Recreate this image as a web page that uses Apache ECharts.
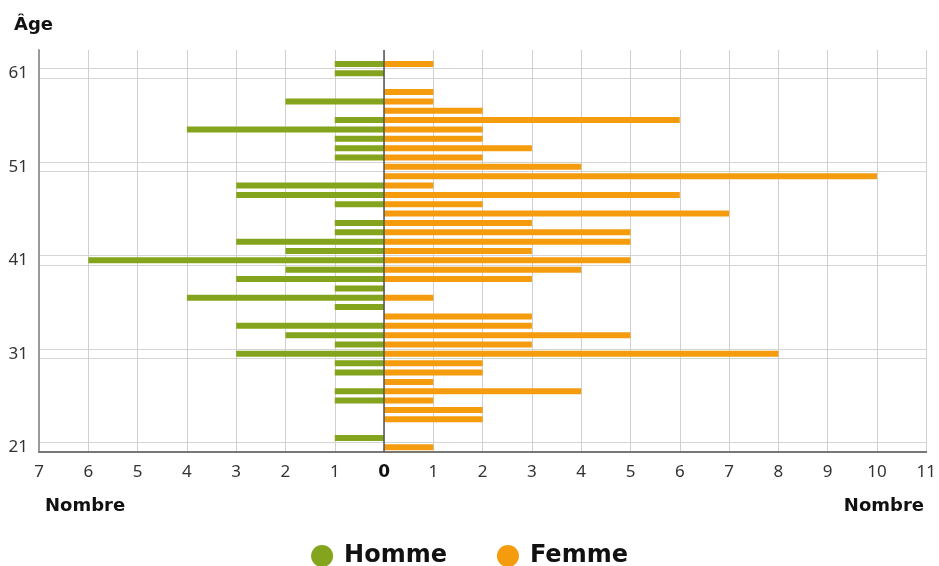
<!DOCTYPE html>
<html>
<head>
<meta charset="utf-8">
<script src="https://cdn.jsdelivr.net/npm/echarts@6/dist/echarts.min.js"></script>
<style>html,body{margin:0;padding:0;background:#fff}#c{width:939px;height:566px}</style>
</head>
<body>
<div id="c"></div>
<script>
const ages = ['21','22','23','24','25','26','27','28','29','30','31','32','33','34','35','36','37','38','39','40','41','42','43','44','45','46','47','48','49','50','51','52','53','54','55','56','57','58','59','60','61','62','63'];
const homme = [0,1,0,0,0,1,1,0,1,1,3,1,2,3,0,1,4,1,3,2,6,2,3,1,1,0,1,3,3,0,0,1,1,1,4,1,0,2,0,0,1,1,0];
const femme = [1,0,0,2,2,1,4,1,2,2,8,3,5,3,3,0,1,0,3,4,5,3,5,5,3,7,2,6,1,10,4,2,3,2,2,6,2,1,1,0,0,1,0];
const labeledAges = [21, 31, 41, 51, 61];
const xMin = -7, xMax = 11;
const seriesNames = ['Homme', 'Femme'];
const colors = ['#84a41d', '#f59b0e'];

// band edges around each labelled age (for the paired horizontal grid lines)
const bandEdges = [];
labeledAges.forEach(a => { bandEdges.push(a - 0.5, a + 0.5); });

const chart = echarts.init(document.getElementById('c'));
chart.setOption({
  animation: false,
  textStyle: { fontFamily: 'Noto Sans' },
  title: [
    { text: 'Nombre', left: 40, top: 492, textStyle: { fontFamily: 'DejaVu Sans', fontWeight: 'bold', fontSize: 18, color: '#111' } },
    { text: 'Nombre', right: 10, top: 492, textStyle: { fontFamily: 'DejaVu Sans', fontWeight: 'bold', fontSize: 18, color: '#111' } }
  ],
  legend: {
    top: 539, left: 'center', icon: 'circle', itemWidth: 22, itemHeight: 22, itemGap: 50,
    textStyle: { fontFamily: 'DejaVu Sans', fontWeight: 'bold', fontSize: 24, color: '#111', padding: [0, 0, 0, 6] },
    data: seriesNames
  },
  grid: { left: 39, right: 10, top: 50, bottom: 114 },
  xAxis: {
    type: 'value', min: xMin, max: xMax, interval: 1,
    axisLine: { show: true, lineStyle: { color: '#777', width: 2 } },
    axisTick: { show: false },
    splitLine: { show: true, lineStyle: { color: '#d0d0d0', width: 1 } },
    axisLabel: {
      margin: 12, fontSize: 17, color: '#333',
      formatter: v => v === 0 ? '{b|0}' : String(Math.abs(v)),
      rich: { b: { fontWeight: 'bold', fontSize: 17, color: '#111', fontFamily: 'DejaVu Sans' } }
    }
  },
  yAxis: [
    {
      type: 'category', data: ages, boundaryGap: true,
      name: 'Âge', nameLocation: 'end', nameGap: 16,
      nameTextStyle: { fontFamily: 'DejaVu Sans', fontWeight: 'bold', fontSize: 18, color: '#111', align: 'left', padding: [0, 0, 0, -25] },
      axisLine: { show: true, onZero: false, lineStyle: { color: '#999', width: 2 } },
      axisTick: { show: false },
      axisLabel: { interval: idx => idx % 10 === 0, margin: 11, fontSize: 17, color: '#333' },
      splitLine: { show: false }
    },
    {
      type: 'value', min: 20.5, max: 63.5, position: 'left',
      axisLine: { show: false }, axisLabel: { show: false },
      axisTick: { show: false, customValues: bandEdges },
      splitLine: { show: true, lineStyle: { color: '#d4d4d4', width: 1 } }
    }
  ],
  series: [
    {
      name: seriesNames[0], type: 'bar', data: homme.map(v => -v), barWidth: 6, barGap: '-100%',
      itemStyle: { color: colors[0] },
      markLine: {
        silent: true, symbol: 'none', label: { show: false },
        lineStyle: { color: '#555', width: 1.5, type: 'solid' },
        data: [{ xAxis: 0 }]
      }
    },
    {
      name: seriesNames[1], type: 'bar', data: femme, barWidth: 6, barGap: '-100%',
      itemStyle: { color: colors[1] }
    }
  ]
});
</script>
</body>
</html>
